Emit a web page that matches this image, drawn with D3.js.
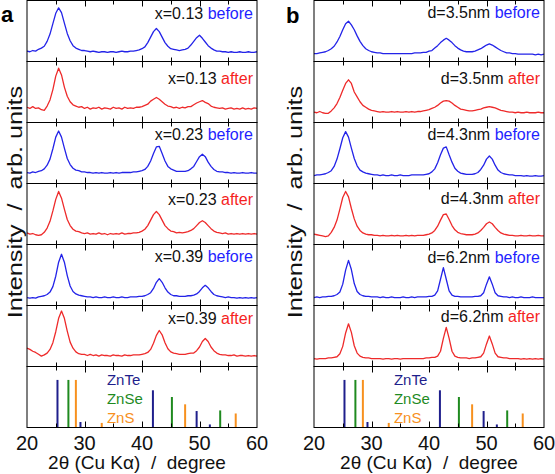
<!DOCTYPE html>
<html><head><meta charset="utf-8">
<script src="https://cdn.jsdelivr.net/npm/d3@7"></script>
<style>
body{margin:0;background:#fff}
svg{display:block}
text{font-family:"Liberation Sans",Arial,Helvetica,sans-serif;white-space:pre}
</style>
</head><body>
<svg id="chart" width="555" height="474"></svg>
<script>
// ---------------- DATA ----------------
const angles = [20,20.5,21,21.5,22,22.5,23,23.5,24,24.5,25,25.5,26,26.5,27,27.5,28,28.5,29,29.5,
30,30.5,31,31.5,32,32.5,33,33.5,34,34.5,35,35.5,36,36.5,37,37.5,38,38.5,39,39.5,
40,40.5,41,41.5,42,42.5,43,43.5,44,44.5,45,45.5,46,46.5,47,47.5,48,48.5,49,49.5,
50,50.5,51,51.5,52,52.5,53,53.5,54,54.5,55,55.5,56,56.5,57,57.5,58,58.5,59,59.5,60];

// panel a
const a_x013_before = [17,16,18,17,20,22,25,33,45,62, 79,88,80,63,46,34,26,22,20,18,
18,17,16,17,16,15,16,16,15,16, 16,15,16,17,16,16,17,17,18,19,
21,24,31,40,49,54,49,40,31,25, 21,20,19,18,19,20,22,27,33,39,
43,38,32,26,22,19,17,17,16,16, 15,16,15,15,16,15,15,16,15,15, 16];
const a_x013_after = [25,23,26,23,24,21,20,27,37,54, 76,89,78,58,43,34,29,27,25,26,
23,25,22,24,23,25,22,24,23,22, 25,23,24,22,25,23,24,23,25,25,
26,28,30,35,38,41,38,34,30,27, 26,24,25,23,25,24,26,26,29,32,
34,36,33,31,27,25,24,23,24,22, 23,24,22,23,22,24,22,23,22,24, 23];
const a_x023_before = [18,17,19,18,20,21,24,30,40,57, 76,86,76,58,41,31,25,22,21,19,
19,18,18,17,18,17,18,17,17,18, 17,18,17,18,18,18,18,19,19,20,
21,23,28,37,49,60,61,49,37,28, 24,22,20,20,20,20,21,24,28,36,
44,48,44,35,28,23,20,19,19,18, 18,17,18,17,17,18,17,17,18,17, 17];
const a_x023_after = [19,17,18,16,15,16,20,27,38,55, 74,87,76,58,41,31,25,22,21,19,
18,19,17,18,17,19,17,18,16,18, 17,18,17,19,17,18,18,19,19,20,
22,25,31,40,49,54,49,40,31,26, 22,21,19,20,19,20,21,23,26,31,
36,39,36,31,26,22,20,19,18,19, 17,18,17,18,17,18,17,18,17,18, 17];
const a_x039_before = [13,12,13,12,14,15,16,18,22,31, 48,71,84,71,49,32,23,19,17,16,
15,14,14,13,14,13,13,14,13,13, 14,13,13,14,13,13,14,14,14,15,
15,16,18,21,28,38,44,38,29,22, 18,16,16,15,15,15,16,16,17,19,
23,29,33,29,23,18,16,15,14,13, 14,13,13,12,13,12,13,12,13,12, 13];
const a_x039_after = [30,28,25,23,20,17,19,22,28,39, 57,79,91,79,58,40,30,24,21,20,
20,18,20,18,19,17,19,18,18,17, 19,18,18,17,19,18,18,19,19,19,
20,21,23,28,38,51,59,52,39,29, 24,22,21,20,20,20,21,22,22,26,
32,41,46,41,32,26,22,20,19,19, 18,18,19,17,18,18,17,18,17,18, 17];

// panel b
const b_d35_before = [13,13,14,15,16,18,21,25,32,41, 52,62,66,60,52,42,33,26,21,18,
16,15,14,14,13,13,13,13,13,13, 13,13,13,13,13,14,14,14,15,15,
17,18,22,26,31,35,38,35,31,26, 22,19,17,16,16,16,17,19,21,24,
27,29,27,24,21,18,16,14,14,13, 13,12,12,12,12,12,12,11,12,11, 12];
const b_d35_after = [17,16,18,16,15,15,19,24,31,41, 53,64,70,64,50,42,34,28,25,22,
20,19,18,17,18,17,17,18,17,18, 17,17,18,17,18,17,18,18,19,20,
21,23,25,28,32,35,36,35,32,28, 25,22,21,20,19,19,20,21,22,24,
25,26,25,24,22,20,19,18,17,17, 16,17,16,16,17,16,16,16,17,16, 16];
const b_d43_before = [13,14,14,15,16,18,21,28,40,57, 75,85,76,58,41,29,22,19,17,16,
15,14,14,13,14,13,13,14,13,13, 14,13,13,13,14,14,14,14,14,15,
16,19,24,34,47,58,60,47,35,25, 20,17,16,15,15,15,16,18,23,30,
40,45,40,30,22,18,16,15,14,14, 13,13,13,12,13,12,12,13,12,12, 13];
const b_d43_after = [17,16,15,14,13,14,20,28,40,58, 77,87,78,59,42,30,23,19,17,16,
16,15,15,14,15,14,14,15,14,15, 14,14,15,14,15,14,15,15,15,16,
17,19,23,30,40,49,50,41,31,24, 20,18,17,16,16,16,17,19,23,28,
34,37,34,28,23,19,17,16,15,15, 14,14,15,14,14,15,14,14,15,14, 14];
const b_d62_before = [13,14,13,14,14,15,15,16,18,22, 35,58,74,59,36,23,18,16,15,15,
14,14,14,13,14,13,13,14,13,13, 13,14,13,13,14,13,14,14,14,14,
15,15,17,24,43,62,43,24,17,15, 15,14,14,14,14,14,15,15,16,21,
35,47,35,21,16,15,14,14,13,14, 13,13,14,13,13,13,14,13,13,13, 13];
const b_d62_after = [13,12,13,13,13,14,14,15,16,21, 33,55,70,56,34,22,17,15,14,14,
13,13,13,13,12,13,13,12,13,13, 12,13,13,13,13,13,13,13,13,14,
14,15,15,17,25,46,64,46,25,17, 15,14,14,14,13,14,14,15,16,22,
37,50,37,22,16,15,14,14,13,13, 13,13,12,13,12,13,12,13,12,13, 12];

const seriesA = [a_x013_before, a_x013_after, a_x023_before, a_x023_after, a_x039_before, a_x039_after];
const seriesB = [b_d35_before, b_d35_after, b_d43_before, b_d43_after, b_d62_before, b_d62_after];
const samplesA = ["x=0.13","x=0.13","x=0.23","x=0.23","x=0.39","x=0.39"];
const samplesB = ["d=3.5nm","d=3.5nm","d=4.3nm","d=4.3nm","d=6.2nm","d=6.2nm"];
const states = ["before","after","before","after","before","after"];

// reference patterns (2θ position, relative intensity)
const znTePos = [25.3, 29.3, 41.9, 49.5, 51.8];
const znTeInt = [78, 9, 61, 27, 5];
const znSePos = [27.2, 45.2, 53.6];
const znSeInt = [78, 50, 28];
const znSPos  = [28.5, 33.0, 47.5, 56.3];
const znSInt  = [78, 7.5, 38, 23];
const refNames = ["ZnTe","ZnSe","ZnS"];

const xTickLabels = [20, 30, 40, 50, 60];
const xTitle = "2\u03B8 (Cu K\u03B1)  /  degree";
const yTitle = "Intensity  /  arb. units";

// ---------------- STYLE / LAYOUT ----------------
const colors = {before:"#2323e8", after:"#ee2a2a"};
const labelColors = {before:"#1f1fff", after:"#f51f1f"};
const refColors = ["#1f1f8c","#1f8a1f","#f7901e"];
const rowH = 61, top0 = 0.5, nRows = 7;
const rowY = i => top0 + i * rowH;
const svg = d3.select("#chart");

const panels = [
  {x0:27, x1:257, series:seriesA, samples:samplesA, letter:"a", letterX:1, letterY:22,
   ylabX:22, xtitleX:137, dy:[18,22,17,21,17,18]},
  {x0:314, x1:544, series:seriesB, samples:samplesB, letter:"b", letterX:286, letterY:23,
   ylabX:302, xtitleX:429, dy:[17,22,17,20,18,16]}
];

panels.forEach(p => {
  const x = d3.scaleLinear().domain([20,60]).range([p.x0, p.x1]);
  const g = svg.append("g");

  // data rows
  p.series.forEach((vals, i) => {
    const y = d3.scaleLinear().domain([0,100]).range([rowY(i+1), rowY(i)]);
    const line = d3.line().x((d,k) => x(angles[k])).y(d => y(d));
    g.append("path").datum(vals.slice(0, angles.length))
      .attr("d", line).attr("fill","none")
      .attr("stroke", colors[states[i]]).attr("stroke-width",1.3)
      .attr("stroke-linejoin","round");
    const t = g.append("text").attr("x", p.x1 - 4).attr("y", rowY(i) + p.dy[i])
      .attr("text-anchor","end").attr("font-size",16);
    t.append("tspan").attr("fill","#111").text(p.samples[i] + " ");
    t.append("tspan").attr("fill", labelColors[states[i]]).text(states[i]);
  });

  // reference sticks
  const yr = d3.scaleLinear().domain([0,100]).range([rowY(7), rowY(6)]);
  const refs = [[znTePos, znTeInt],[znSePos, znSeInt],[znSPos, znSInt]];
  refs.forEach((r, j) => {
    r[0].forEach((pos, k) => {
      g.append("line").attr("x1", x(pos)).attr("x2", x(pos))
        .attr("y1", yr(0)).attr("y2", yr(r[1][k]))
        .attr("stroke", refColors[j]).attr("stroke-width", 2);
    });
    g.append("text").attr("x", x(33.9)).attr("y", rowY(6) + 18.5 + j*19)
      .attr("fill", refColors[j]).attr("font-size", 15).text(refNames[j]);
  });

  // frames
  for (let i = 0; i < nRows; i++) {
    g.append("rect").attr("x", p.x0).attr("y", rowY(i)).attr("width", p.x1 - p.x0)
      .attr("height", rowH).attr("fill","none").attr("stroke","#000").attr("stroke-width",1);
  }
  // ticks
  const tks = x.ticks(8).filter(v => v > 20 && v < 60);
  for (let k = 0; k <= nRows; k++) {
    const yb = rowY(k);
    tks.forEach(v => {
      const len = (v % 10 === 0) ? 6 : 4;
      const xx = Math.round(x(v)) + 0.5;
      if (k > 0) g.append("line").attr("x1",xx).attr("x2",xx).attr("y1",yb).attr("y2",yb-len).attr("stroke","#000");
      if (k < nRows) g.append("line").attr("x1",xx).attr("x2",xx).attr("y1",yb).attr("y2",yb+len).attr("stroke","#000");
    });
  }
  // tick labels
  xTickLabels.forEach(v => {
    g.append("text").attr("x", x(v)).attr("y", 450).attr("text-anchor","middle")
      .attr("font-size", 20).attr("fill","#111").text(v);
  });
  // axis titles
  g.append("text").attr("x", p.xtitleX).attr("y", 469).attr("text-anchor","middle")
    .attr("font-size", 19).attr("fill","#111").text(xTitle);
  g.append("text").attr("transform", `translate(${p.ylabX},202) rotate(-90) scale(1.2,1)`)
    .attr("text-anchor","middle").attr("font-size", 21).attr("fill","#111").text(yTitle);
  // panel letter
  g.append("text").attr("x", p.letterX).attr("y", p.letterY).attr("font-size", 22)
    .attr("font-weight","bold").attr("fill","#000").text(p.letter);
});
</script>
</body></html>
